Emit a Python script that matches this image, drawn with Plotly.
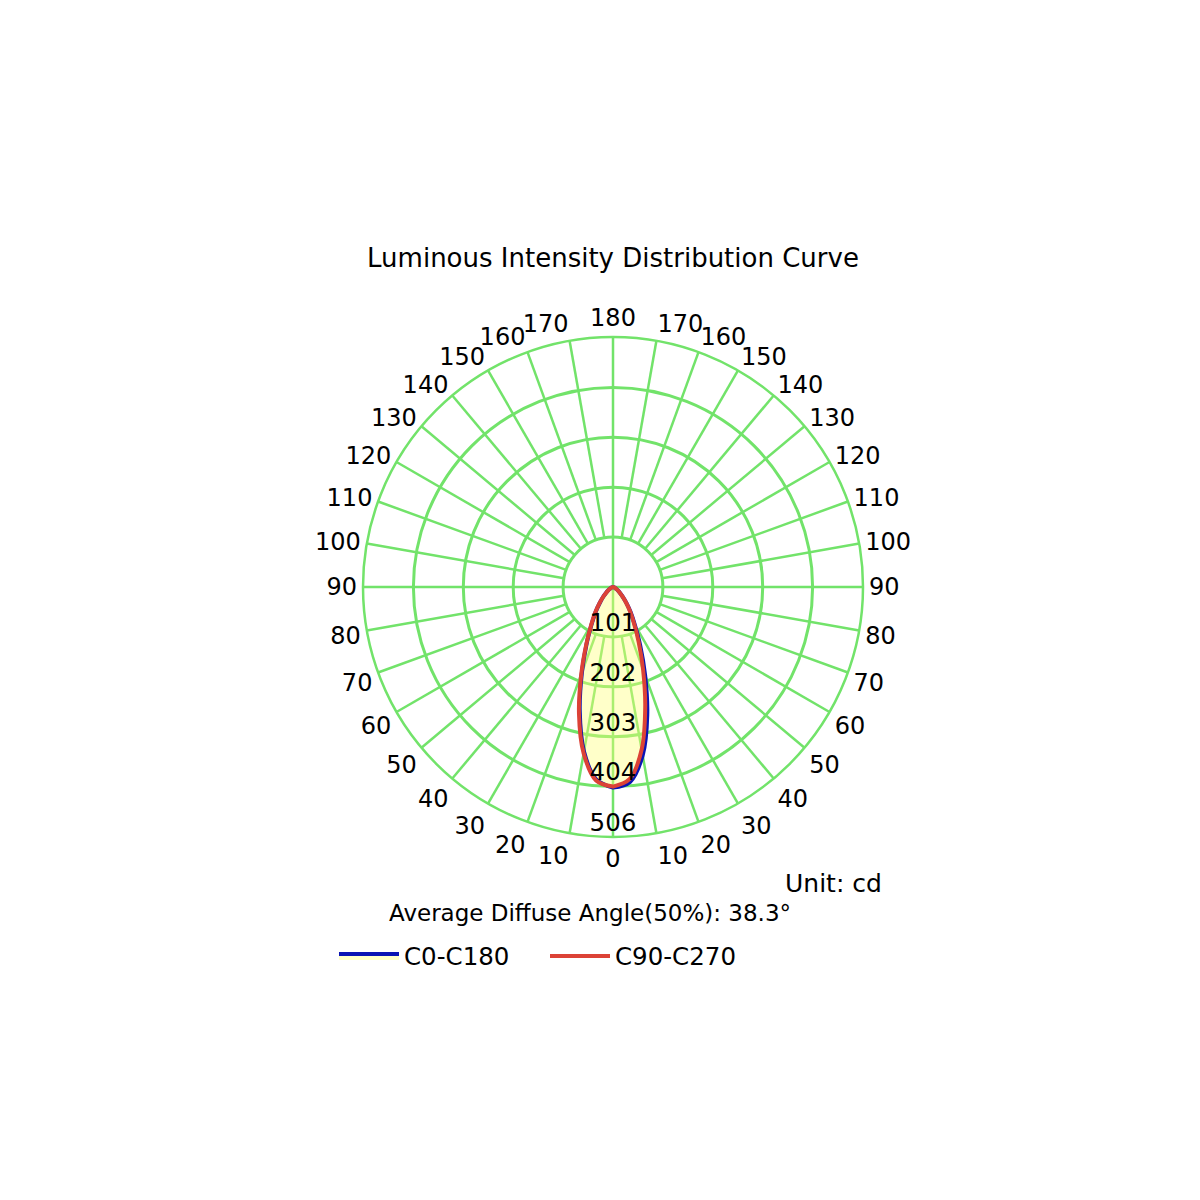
import plotly.graph_objects as go

# gamma angles (deg) from nadir, one half-plane each
angles = [0, 5, 10, 15, 20, 25, 30, 35, 40, 45, 50, 55, 60, 65, 70, 75, 80, 85, 90]

# intensities (cd)
c0 = [406, 396, 346, 268, 190, 130, 88, 62, 42, 28, 18, 12, 8, 5, 3, 2, 1, 0, 0]
c180 = [406, 391, 338, 260, 184, 126, 86, 61, 41, 28, 18, 12, 8, 5, 3, 2, 1, 0, 0]
c90 = [404, 390, 334, 252, 178, 123, 85, 60, 41, 27, 18, 12, 8, 5, 3, 2, 1, 0, 0]
c270 = [404, 393, 342, 266, 188, 128, 88, 62, 42, 28, 18, 12, 8, 5, 3, 2, 1, 0, 0]

radial_ticks = [101, 202, 303, 404, 506]
angle_ticks = list(range(0, 360, 10))
angle_labels = [str(a) if a <= 180 else str(360 - a) for a in angle_ticks]

GREEN = '#72E36A'
BLUE = '#0A14B4'
RED = '#DC4236'
FONT = 'DejaVu Sans'

# page body adds an 8px offset, so positions are given 8px up/left
W = 1200.0


def px_x(x):
    return (x - 8) / W


def px_y(y):
    return 1 - (y - 8) / W


def plane(left, right):
    # left half drawn on 270..360, right half on 0..90
    th = [360 - a for a in angles][::-1] + angles
    rr = left[::-1] + right
    return rr, th


fig = go.Figure()

# spokes every 10 deg outside the inner ring, plain cross through the hole
sr, st = [], []
for a in angle_ticks:
    sr += [radial_ticks[0], radial_ticks[-1], None]
    st += [a, a, None]
for a in (0, 90, 180, 270):
    sr += [0, radial_ticks[0], None]
    st += [a, a, None]
fig.add_trace(go.Scatterpolar(r=sr, theta=st, mode='lines',
                              line=dict(color=GREEN, width=2.5),
                              showlegend=False, hoverinfo='skip'))

r_b, t_b = plane(c180, c0)
fig.add_trace(go.Scatterpolar(r=r_b, theta=t_b, mode='lines', name='C0-C180',
                              line=dict(color=BLUE, width=4, shape='spline'),
                              fill='toself', fillcolor='rgba(255,255,120,0.4)'))
r_r, t_r = plane(c270, c90)
fig.add_trace(go.Scatterpolar(r=r_r, theta=t_r, mode='lines', name='C90-C270',
                              line=dict(color=RED, width=4, shape='spline')))

# radial value labels along the 0 deg axis
fig.add_trace(go.Scatterpolar(r=radial_ticks, theta=[0] * len(radial_ticks),
                              mode='text', text=[str(v) for v in radial_ticks],
                              textposition='top center',
                              textfont=dict(size=24.5, color='black', family=FONT),
                              showlegend=False, hoverinfo='skip', cliponaxis=False))

fig.update_layout(
    width=1200, height=1200,
    margin=dict(l=0, r=0, t=0, b=0),
    paper_bgcolor='white',
    font=dict(family=FONT, size=23, color='black'),
    title=dict(text='Luminous Intensity Distribution Curve', x=px_x(613), y=px_y(258),
               xanchor='center', yanchor='middle', font=dict(size=26, family=FONT, color='black')),
    polar=dict(
        domain=dict(x=[px_x(363), px_x(863)], y=[px_y(837), px_y(337)]),
        bgcolor='white',
        radialaxis=dict(range=[0, 506], tickvals=radial_ticks, showticklabels=False,
                        ticks='', showline=False, gridcolor=GREEN, gridwidth=2.5),
        angularaxis=dict(rotation=-90, direction='counterclockwise',
                         tickvals=angle_ticks, ticktext=angle_labels, ticks='',
                         showgrid=False, showline=True, linecolor=GREEN, linewidth=2.5,
                         tickfont=dict(size=24, color='black', family=FONT)),
    ),
    legend=dict(orientation='h', x=px_x(334), y=px_y(956), xanchor='left', yanchor='middle',
                font=dict(size=24.5, family=FONT, color='black'), bgcolor='rgba(0,0,0,0)',
                itemwidth=60, entrywidth=136, entrywidthmode='pixels'),
    annotations=[
        dict(text='Unit: cd', x=px_x(884), y=px_y(883), xref='paper', yref='paper',
             xanchor='right', yanchor='middle', showarrow=False, font=dict(size=25)),
        dict(text='Average Diffuse Angle(50%): 38.3°', x=px_x(590), y=px_y(913),
             xref='paper', yref='paper', xanchor='center', yanchor='middle',
             showarrow=False, font=dict(size=23)),
    ],
)

fig.write_html('out.html')
